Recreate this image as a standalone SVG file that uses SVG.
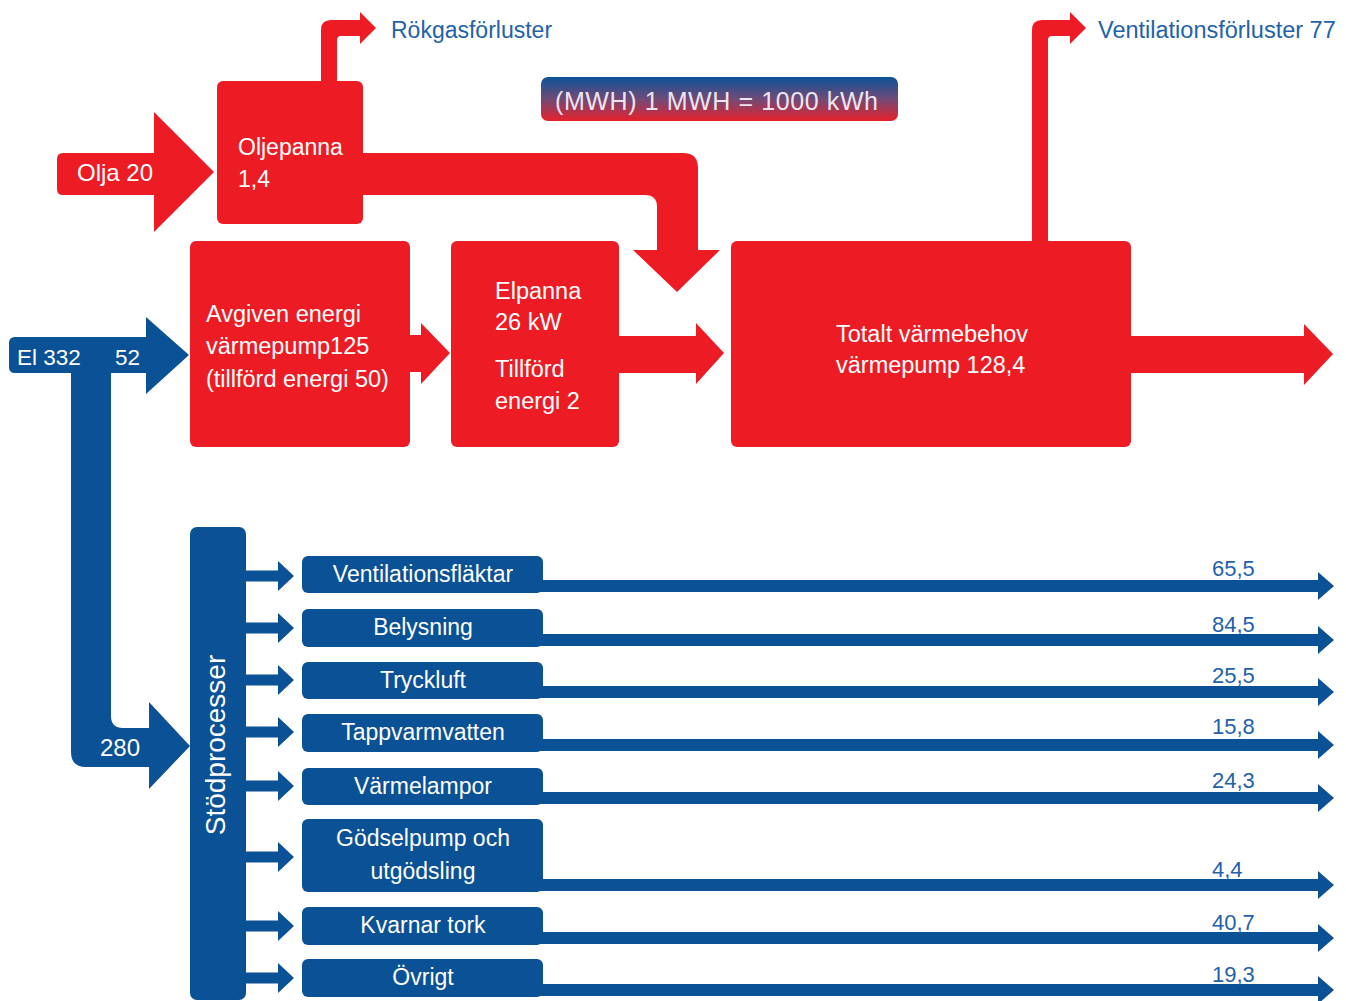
<svg xmlns="http://www.w3.org/2000/svg" width="1346" height="1001" viewBox="0 0 1346 1001">
<style>
.red{fill:#ed1c24}
.blue{fill:#0b5196}
.t{font-family:"Liberation Sans",Arial,sans-serif;fill:#ffffff}
.bt{font-family:"Liberation Sans",Arial,sans-serif;fill:#2262aa}
.lbl{font-size:23px;text-anchor:middle}
.num{font-size:22px}
</style>
<defs>
<linearGradient id="g" x1="0" y1="0" x2="0" y2="1">
<stop offset="0" stop-color="#0b5299"/>
<stop offset="0.5" stop-color="#704a78"/>
<stop offset="1" stop-color="#e8202a"/>
</linearGradient>
<path id="sa" d="M0,-5.5 H33 V-15 L49,0 L33,15 V5.5 H0 Z"/>
<path id="la" d="M0,-6 H777 V-14 L793,0 L777,14 V6 H0 Z"/>
</defs>
<rect width="1346" height="1001" fill="#ffffff"/>

<g id="connectors">
<path class="red" d="M63,153 H154 V112 L214,172 L154,232 V195 H63 Q57,195 57,189 V159 Q57,153 63,153 Z"/>
<path class="red" d="M321,82 V30 Q321,20 331,20 H360 V12 L376,28 L360,44 V36 H341 Q337,36 337,40 V82 Z"/>
<path class="red" d="M362,153 H683 Q698,153 698,168 V250 H720 L677,292 L633,250 H657 V207 Q657,195 645,195 H362 Z"/>
<path class="red" d="M409,335 H421 V323 L450,353 L421,384 V372 H409 Z"/>
<path class="red" d="M618,336 H696 V323 L724,353 L696,384 V373 H618 Z"/>
<path class="red" d="M1130,336 H1304 V324 L1333,354 L1304,385 V373 H1130 Z"/>
<path class="red" d="M1032,242 V30 Q1032,20 1042,20 H1070 V12 L1086,28 L1070,44 V36 H1052 Q1048,36 1048,40 V242 Z"/>
<path class="blue" d="M15,337 H146 V317 L189,355 L146,394 V373 H111 V716 Q111,728 123,728 H149 V702 L190,746 L149,789 V767 H86 Q71,767 71,752 V373 H15 Q9,373 9,367 V343 Q9,337 15,337 Z"/>
<use href="#sa" class="blue" x="245" y="576"/>
<use href="#sa" class="blue" x="245" y="628"/>
<use href="#sa" class="blue" x="245" y="680"/>
<use href="#sa" class="blue" x="245" y="732"/>
<use href="#sa" class="blue" x="245" y="786"/>
<use href="#sa" class="blue" x="245" y="857"/>
<use href="#sa" class="blue" x="245" y="926"/>
<use href="#sa" class="blue" x="245" y="978"/>
<use href="#la" class="blue" x="541" y="586"/>
<use href="#la" class="blue" x="541" y="640"/>
<use href="#la" class="blue" x="541" y="692"/>
<use href="#la" class="blue" x="541" y="745"/>
<use href="#la" class="blue" x="541" y="798"/>
<use href="#la" class="blue" x="541" y="885"/>
<use href="#la" class="blue" x="541" y="938"/>
<use href="#la" class="blue" x="541" y="990"/>
</g>

<g id="flow-labels">
<text class="t" x="77" y="181" font-size="24">Olja 20</text>
<text class="bt" x="391" y="38" font-size="23">Rökgasförluster</text>
<text class="bt" x="1098" y="38" font-size="23.5">Ventilationsförluster 77</text>
<text class="t" x="17" y="365" font-size="22.5">El 332</text>
<text class="t" x="115" y="365" font-size="22.5">52</text>
<text class="t" x="100" y="756" font-size="24">280</text>
<text class="bt num" x="1212" y="576">65,5</text>
<text class="bt num" x="1212" y="632">84,5</text>
<text class="bt num" x="1212" y="683">25,5</text>
<text class="bt num" x="1212" y="734">15,8</text>
<text class="bt num" x="1212" y="788">24,3</text>
<text class="bt num" x="1212" y="877">4,4</text>
<text class="bt num" x="1212" y="930">40,7</text>
<text class="bt num" x="1212" y="982">19,3</text>
</g>

<g id="unit-label">
<rect x="541" y="77" width="357" height="44" rx="7" fill="url(#g)"/>
<text x="555" y="110" font-size="25" font-family="Liberation Sans,Arial,sans-serif" fill="#ede5ee" textLength="323">(MWH) 1 MWH = 1000 kWh</text>
</g>

<g id="oljepanna">
<rect class="red" x="217" y="81" width="146" height="143" rx="6"/>
<text class="t" x="238" y="155" font-size="23">Oljepanna</text>
<text class="t" x="238" y="187" font-size="23">1,4</text>
</g>

<g id="varmepump">
<rect class="red" x="190" y="241" width="220" height="206" rx="6"/>
<text class="t" x="206" y="322" font-size="23.5">Avgiven energi</text>
<text class="t" x="206" y="354" font-size="23.5">värmepump125</text>
<text class="t" x="206" y="387" font-size="23.5">(tillförd energi 50)</text>
</g>

<g id="elpanna">
<rect class="red" x="451" y="241" width="168" height="206" rx="6"/>
<text class="t" x="495" y="299" font-size="23.5">Elpanna</text>
<text class="t" x="495" y="330" font-size="23.5">26 kW</text>
<text class="t" x="495" y="377" font-size="23.5">Tillförd</text>
<text class="t" x="495" y="409" font-size="23.5">energi 2</text>
</g>

<g id="totalt">
<rect class="red" x="731" y="241" width="400" height="206" rx="6"/>
<text class="t" x="836" y="342" font-size="23.5">Totalt värmebehov</text>
<text class="t" x="836" y="373" font-size="23.5">värmepump 128,4</text>
</g>

<g id="stodprocesser">
<rect class="blue" x="190" y="527" width="56" height="473" rx="7"/>
<text class="t" transform="translate(225,745) rotate(-90)" font-size="28" text-anchor="middle">Stödprocesser</text>
</g>

<g id="ventilationsflaktar">
<rect class="blue" x="302" y="556" width="241" height="37" rx="6"/>
<text class="t lbl" x="423" y="582">Ventilationsfläktar</text>
</g>
<g id="belysning">
<rect class="blue" x="302" y="609" width="241" height="38" rx="6"/>
<text class="t lbl" x="423" y="635">Belysning</text>
</g>
<g id="tryckluft">
<rect class="blue" x="302" y="662" width="241" height="37" rx="6"/>
<text class="t lbl" x="423" y="688">Tryckluft</text>
</g>
<g id="tappvarmvatten">
<rect class="blue" x="302" y="714" width="241" height="38" rx="6"/>
<text class="t lbl" x="423" y="740">Tappvarmvatten</text>
</g>
<g id="varmelampor">
<rect class="blue" x="302" y="768" width="241" height="37" rx="6"/>
<text class="t lbl" x="423" y="794">Värmelampor</text>
</g>
<g id="godselpump">
<rect class="blue" x="302" y="819" width="241" height="73" rx="6"/>
<text class="t lbl" x="423" y="846">Gödselpump och</text>
<text class="t lbl" x="423" y="879">utgödsling</text>
</g>
<g id="kvarnar">
<rect class="blue" x="302" y="907" width="241" height="38" rx="6"/>
<text class="t lbl" x="423" y="933">Kvarnar tork</text>
</g>
<g id="ovrigt">
<rect class="blue" x="302" y="959" width="241" height="38" rx="6"/>
<text class="t lbl" x="423" y="985">Övrigt</text>
</g>
</svg>
